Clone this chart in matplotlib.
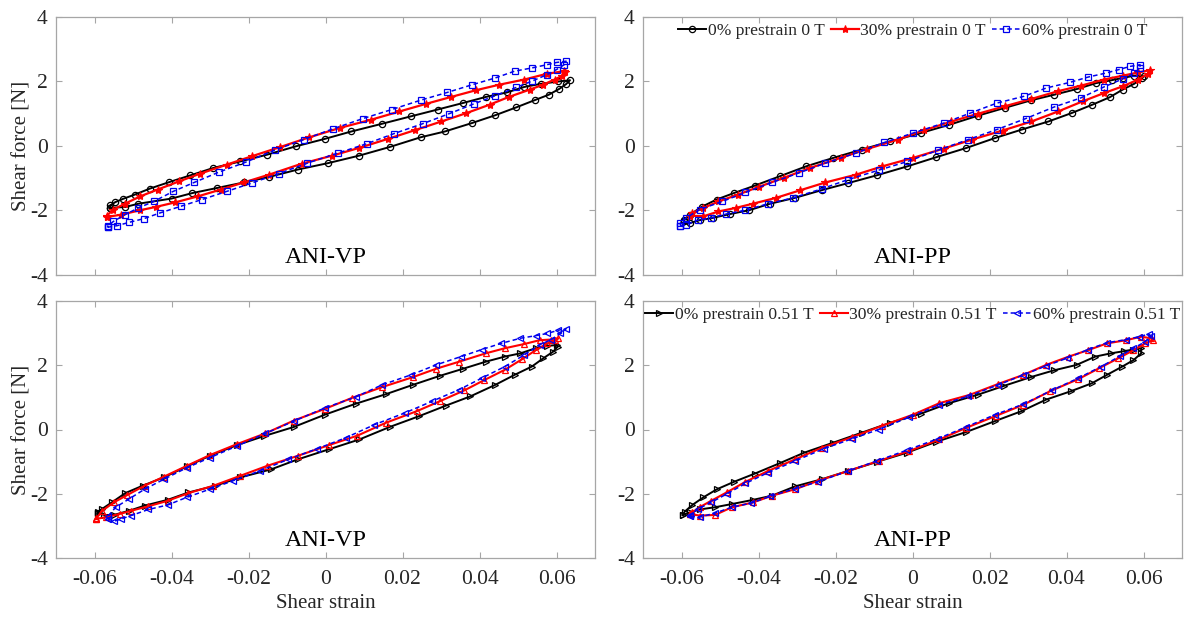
import matplotlib
matplotlib.use("Agg")
import matplotlib.pyplot as plt
import numpy as np

# ---------------- data (shear strain, shear force [N]) ----------------
# Panel A: ANI-VP, 0 T
vp0_p0_x = [-0.056, -0.052, -0.0486, -0.040, -0.0346, -0.0281, -0.0212, -0.0147, -0.0072, 0.0007, 0.0087, 0.0167, 0.0247, 0.031, 0.038, 0.044, 0.0496, 0.0543, 0.058, 0.0607, 0.0625, 0.0635,
            0.0605, 0.0561, 0.0516, 0.0471, 0.0416, 0.0356, 0.0291, 0.0222, 0.0147, 0.0067, -0.0002, -0.0077, -0.0152, -0.0222, -0.0291, -0.0351, -0.0406, -0.0456, -0.0496, -0.0526, -0.0546, -0.0559]
vp0_p0_y = [-1.92, -1.89, -1.79, -1.63, -1.46, -1.30, -1.13, -0.96, -0.73, -0.53, -0.30, -0.03, 0.27, 0.45, 0.71, 0.95, 1.20, 1.42, 1.59, 1.77, 1.92, 2.04,
            2.00, 1.93, 1.83, 1.66, 1.52, 1.33, 1.13, 0.92, 0.69, 0.45, 0.22, -0.01, -0.27, -0.48, -0.68, -0.91, -1.12, -1.32, -1.51, -1.64, -1.74, -1.84]
vp0_p30_x = [-0.0568, -0.0531, -0.0481, -0.0441, -0.0391, -0.0331, -0.0272, -0.0212, -0.0147, -0.0062, 0.0017, 0.0087, 0.0162, 0.0232, 0.0301, 0.0366, 0.0426, 0.0476, 0.0531, 0.0565, 0.0595, 0.0615, 0.0623,
             0.0620, 0.0575, 0.0516, 0.0451, 0.0391, 0.0326, 0.0262, 0.0192, 0.0117, 0.0037, -0.0042, -0.0117, -0.0192, -0.0257, -0.0326, -0.0381, -0.0436, -0.0481, -0.0521, -0.0551, -0.0568]
vp0_p30_y = [-2.20, -2.13, -1.99, -1.89, -1.75, -1.56, -1.35, -1.13, -0.89, -0.55, -0.30, -0.06, 0.22, 0.49, 0.76, 1.02, 1.28, 1.52, 1.75, 1.90, 2.06, 2.18, 2.28,
             2.32, 2.24, 2.06, 1.90, 1.73, 1.52, 1.31, 1.07, 0.81, 0.56, 0.27, -0.03, -0.32, -0.58, -0.86, -1.10, -1.35, -1.56, -1.79, -1.97, -2.16]
vp0_p60_x = [-0.0566, -0.0541, -0.0511, -0.0471, -0.0431, -0.0376, -0.0321, -0.0257, -0.0192, -0.0122, -0.0047, 0.0032, 0.0107, 0.0177, 0.0252, 0.0321, 0.0386, 0.0441, 0.0496, 0.0536, 0.0575, 0.0600, 0.0620,
             0.0625, 0.0600, 0.0575, 0.0536, 0.0491, 0.0441, 0.0381, 0.0316, 0.0247, 0.0172, 0.0097, 0.0019, -0.0057, -0.0132, -0.0207, -0.0277, -0.0341, -0.0396, -0.0446, -0.0486, -0.0521, -0.0551, -0.0566]
vp0_p60_y = [-2.52, -2.47, -2.37, -2.25, -2.08, -1.87, -1.66, -1.41, -1.15, -0.86, -0.53, -0.22, 0.07, 0.38, 0.69, 1.00, 1.31, 1.56, 1.82, 2.01, 2.21, 2.37, 2.52,
             2.63, 2.59, 2.52, 2.42, 2.32, 2.11, 1.90, 1.66, 1.42, 1.13, 0.85, 0.53, 0.20, -0.13, -0.50, -0.81, -1.13, -1.41, -1.72, -1.92, -2.13, -2.34, -2.49]

# Panel B: ANI-PP, 0 T
pp0_p0_x = [-0.0593, -0.0578, -0.0553, -0.0519, -0.0474, -0.0424, -0.0370, -0.0306, -0.0236, -0.0167, -0.0093, -0.0013, 0.0061, 0.0140, 0.0215, 0.0284, 0.0353, 0.0413, 0.0467, 0.0512, 0.0546, 0.0576, 0.0596, 0.0601,
            0.0576, 0.0546, 0.0517, 0.0477, 0.0428, 0.0368, 0.0309, 0.0239, 0.0170, 0.0096, 0.0021, -0.0058, -0.0132, -0.0206, -0.0276, -0.0345, -0.0410, -0.0464, -0.0509, -0.0548, -0.0578, -0.0593]
pp0_p0_y = [-2.34, -2.39, -2.30, -2.23, -2.11, -1.99, -1.79, -1.61, -1.37, -1.15, -0.91, -0.63, -0.35, -0.06, 0.25, 0.51, 0.76, 1.02, 1.28, 1.51, 1.75, 1.93, 2.11, 2.16,
            2.18, 2.11, 2.04, 1.95, 1.77, 1.59, 1.42, 1.18, 0.94, 0.66, 0.40, 0.14, -0.11, -0.37, -0.63, -0.94, -1.23, -1.46, -1.66, -1.89, -2.13, -2.28]
pp0_p30_x = [-0.0578, -0.0543, -0.0504, -0.0459, -0.0415, -0.0355, -0.0291, -0.0226, -0.0147, -0.0078, 0.0001, 0.0081, 0.0155, 0.0234, 0.0309, 0.0378, 0.0443, 0.0497, 0.0546, 0.0586, 0.0611, 0.0616,
             0.0586, 0.0546, 0.0497, 0.0437, 0.0378, 0.0309, 0.0239, 0.0170, 0.0101, 0.0031, -0.0038, -0.0117, -0.0187, -0.0266, -0.0335, -0.0400, -0.0454, -0.0504, -0.0543, -0.0573]
pp0_p30_y = [-2.16, -2.18, -2.03, -1.92, -1.79, -1.61, -1.37, -1.13, -0.89, -0.63, -0.37, -0.08, 0.20, 0.48, 0.76, 1.07, 1.39, 1.64, 1.85, 2.06, 2.24, 2.35,
             2.28, 2.18, 2.06, 1.87, 1.70, 1.46, 1.23, 1.00, 0.76, 0.49, 0.20, -0.09, -0.37, -0.68, -0.99, -1.27, -1.51, -1.72, -1.92, -2.08]
pp0_p60_x = [-0.0603, -0.0588, -0.0558, -0.0524, -0.0484, -0.0434, -0.0375, -0.0311, -0.0236, -0.0167, -0.0088, -0.0013, 0.0066, 0.0145, 0.0219, 0.0294, 0.0368, 0.0437, 0.0497, 0.0546, 0.0576, 0.0591,
             0.0591, 0.0566, 0.0536, 0.0502, 0.0457, 0.0408, 0.0348, 0.0289, 0.0219, 0.0150, 0.0081, 0.0001, -0.0073, -0.0147, -0.0226, -0.0296, -0.0365, -0.0434, -0.0494, -0.0553, -0.0588, -0.0603]
pp0_p60_y = [-2.47, -2.44, -2.30, -2.23, -2.11, -1.99, -1.79, -1.61, -1.33, -1.04, -0.75, -0.48, -0.13, 0.20, 0.51, 0.85, 1.21, 1.49, 1.83, 2.08, 2.26, 2.42,
             2.52, 2.47, 2.37, 2.26, 2.14, 1.97, 1.80, 1.54, 1.33, 1.02, 0.71, 0.40, 0.11, -0.22, -0.53, -0.84, -1.13, -1.44, -1.72, -1.97, -2.23, -2.39]

# Panel C: ANI-VP, 0.51 T
vp51_p0_x = [-0.0592, -0.0575, -0.0550, -0.0510, -0.0470, -0.0410, -0.0356, -0.0286, -0.0221, -0.0141, -0.0072, 0.0008, 0.0088, 0.0167, 0.0242, 0.0312, 0.0376, 0.0441, 0.0491, 0.0536, 0.0566, 0.0591, 0.0603,
             0.0600, 0.0576, 0.0546, 0.0506, 0.0466, 0.0416, 0.0357, 0.0297, 0.0227, 0.0157, 0.0078, -0.0002, -0.0082, -0.0161, -0.0231, -0.0301, -0.0360, -0.0420, -0.0475, -0.0520, -0.0555, -0.0580, -0.0592]
vp51_p0_y = [-2.60, -2.66, -2.66, -2.53, -2.37, -2.19, -1.96, -1.75, -1.49, -1.24, -0.93, -0.62, -0.31, 0.08, 0.41, 0.74, 1.03, 1.39, 1.70, 1.96, 2.22, 2.42, 2.58,
             2.63, 2.60, 2.53, 2.37, 2.27, 2.11, 1.89, 1.67, 1.39, 1.10, 0.80, 0.46, 0.08, -0.21, -0.49, -0.82, -1.15, -1.49, -1.75, -1.98, -2.27, -2.47, -2.56]
vp51_p30_x = [-0.0595, -0.0570, -0.0535, -0.0505, -0.0460, -0.0410, -0.0356, -0.0291, -0.0221, -0.0151, -0.0072, 0.0008, 0.0083, 0.0157, 0.0237, 0.0297, 0.0361, 0.0411, 0.0466, 0.0511, 0.0546, 0.0576, 0.0596,
              0.0605, 0.0586, 0.0556, 0.0516, 0.0466, 0.0416, 0.0347, 0.0287, 0.0227, 0.0147, 0.0068, -0.0002, -0.0082, -0.0156, -0.0231, -0.0301, -0.0360, -0.0420, -0.0470, -0.0515, -0.0550, -0.0580, -0.0595]
vp51_p30_y = [-2.78, -2.73, -2.63, -2.53, -2.39, -2.22, -1.98, -1.75, -1.44, -1.13, -0.82, -0.49, -0.19, 0.21, 0.57, 0.88, 1.22, 1.53, 1.86, 2.19, 2.47, 2.68, 2.78,
              2.84, 2.80, 2.78, 2.66, 2.53, 2.37, 2.11, 1.89, 1.63, 1.32, 0.98, 0.64, 0.28, -0.12, -0.46, -0.80, -1.13, -1.47, -1.75, -2.04, -2.27, -2.53, -2.76]
vp51_p60_x = [-0.0565, -0.0550, -0.0530, -0.0505, -0.0460, -0.0410, -0.0360, -0.0301, -0.0241, -0.0171, -0.0097, -0.0022, 0.0052, 0.0127, 0.0207, 0.0277, 0.0347, 0.0406, 0.0466, 0.0516, 0.0556, 0.0586, 0.0610,
              0.0625, 0.0605, 0.0576, 0.0546, 0.0506, 0.0456, 0.0406, 0.0352, 0.0287, 0.0222, 0.0147, 0.0078, -0.0002, -0.0082, -0.0156, -0.0231, -0.0301, -0.0360, -0.0420, -0.0470, -0.0510, -0.0545, -0.0565]
vp51_p60_y = [-2.78, -2.86, -2.78, -2.68, -2.49, -2.35, -2.11, -1.86, -1.60, -1.29, -0.93, -0.60, -0.26, 0.15, 0.52, 0.88, 1.24, 1.60, 1.96, 2.32, 2.63, 2.80, 2.99,
              3.14, 3.09, 2.99, 2.92, 2.84, 2.68, 2.49, 2.27, 2.01, 1.70, 1.39, 1.01, 0.67, 0.26, -0.12, -0.52, -0.88, -1.19, -1.55, -1.86, -2.16, -2.42, -2.70]

# Panel D: ANI-PP, 0.51 T
pp51_p0_x = [-0.0597, -0.0577, -0.0553, -0.0513, -0.0469, -0.0414, -0.0365, -0.0305, -0.0236, -0.0167, -0.0093, -0.0014, 0.0060, 0.0139, 0.0214, 0.0283, 0.0347, 0.0411, 0.0466, 0.0505, 0.0545, 0.0574, 0.0594,
             0.0594, 0.0574, 0.0550, 0.0515, 0.0475, 0.0426, 0.0367, 0.0307, 0.0238, 0.0169, 0.0095, 0.0021, -0.0058, -0.0132, -0.0206, -0.0281, -0.0345, -0.0409, -0.0464, -0.0508, -0.0543, -0.0572, -0.0592]
pp51_p0_y = [-2.66, -2.58, -2.49, -2.42, -2.32, -2.19, -2.06, -1.77, -1.55, -1.29, -1.01, -0.72, -0.39, -0.08, 0.26, 0.57, 0.93, 1.19, 1.44, 1.70, 1.96, 2.16, 2.37,
             2.53, 2.49, 2.44, 2.37, 2.27, 2.01, 1.84, 1.63, 1.36, 1.08, 0.82, 0.49, 0.21, -0.10, -0.41, -0.72, -1.05, -1.37, -1.63, -1.86, -2.11, -2.35, -2.56]
pp51_p30_x = [-0.0577, -0.0553, -0.0513, -0.0469, -0.0414, -0.0365, -0.0305, -0.0246, -0.0167, -0.0088, -0.0009, 0.0070, 0.0139, 0.0218, 0.0288, 0.0357, 0.0431, 0.0485, 0.0535, 0.0574, 0.0604, 0.0624,
              0.0619, 0.0594, 0.0555, 0.0505, 0.0456, 0.0406, 0.0347, 0.0288, 0.0223, 0.0149, 0.0070, 0.0001, -0.0078, -0.0157, -0.0236, -0.0305, -0.0375, -0.0434, -0.0483, -0.0523, -0.0553, -0.0572]
pp51_p30_y = [-2.63, -2.68, -2.66, -2.42, -2.27, -2.06, -1.86, -1.60, -1.29, -0.98, -0.67, -0.31, 0.05, 0.43, 0.77, 1.19, 1.57, 1.91, 2.22, 2.47, 2.68, 2.78,
              2.84, 2.89, 2.78, 2.68, 2.47, 2.27, 2.01, 1.70, 1.42, 1.08, 0.82, 0.46, 0.12, -0.24, -0.57, -0.93, -1.29, -1.63, -1.96, -2.22, -2.42, -2.58]
pp51_p60_x = [-0.0577, -0.0553, -0.0513, -0.0469, -0.0419, -0.0370, -0.0305, -0.0246, -0.0167, -0.0093, -0.0014, 0.0065, 0.0139, 0.0214, 0.0288, 0.0362, 0.0431, 0.0490, 0.0540, 0.0574, 0.0604, 0.0619,
              0.0614, 0.0589, 0.0555, 0.0505, 0.0456, 0.0401, 0.0347, 0.0288, 0.0223, 0.0144, 0.0070, -0.0009, -0.0088, -0.0157, -0.0231, -0.0305, -0.0375, -0.0434, -0.0483, -0.0523, -0.0557, -0.0577]
pp51_p60_y = [-2.70, -2.73, -2.60, -2.42, -2.29, -2.08, -1.84, -1.63, -1.29, -0.98, -0.64, -0.29, 0.08, 0.46, 0.79, 1.22, 1.60, 1.96, 2.29, 2.53, 2.73, 2.91,
              2.97, 2.89, 2.80, 2.70, 2.49, 2.22, 1.98, 1.70, 1.39, 1.03, 0.77, 0.38, 0.00, -0.29, -0.60, -0.98, -1.34, -1.68, -2.01, -2.27, -2.47, -2.66]

panel_titles = ["ANI-VP", "ANI-PP", "ANI-VP", "ANI-PP"]
labels_0T = ["0% prestrain 0 T", "30% prestrain 0 T", "60% prestrain 0 T"]
labels_051T = ["0% prestrain 0.51 T", "30% prestrain 0.51 T", "60% prestrain 0.51 T"]
x_ticks = [-0.06, -0.04, -0.02, 0, 0.02, 0.04, 0.06]
x_ticklabels = ["-0.06", "-0.04", "-0.02", "0", "0.02", "0.04", "0.06"]
y_ticks = [-4, -2, 0, 2, 4]
y_ticklabels = ["-4", "-2", "0", "2", "4"]
xlabel = "Shear strain"
ylabel = "Shear force [N]"

# ---------------- figure ----------------
plt.rcParams['font.family'] = ['Liberation Serif', 'DejaVu Serif']
plt.rcParams['axes.unicode_minus'] = False

W, H = 1186, 617
fig = plt.figure(figsize=(W / 100, H / 100), dpi=100)

def box(l, r, t, b):
    return [l / W, 1 - b / H, (r - l) / W, (b - t) / H]

axes = [fig.add_axes(box(56, 595, 17, 275)),
        fig.add_axes(box(643, 1182, 17, 275)),
        fig.add_axes(box(56, 595, 301, 558)),
        fig.add_axes(box(643, 1182, 301, 558))]

frame_col = "#a6a6a6"
text_col = "#262626"

styles_0T = [dict(color="black", ls="-", marker="o", ms=4.5, mfc="none", mew=0.9, lw=1.4),
             dict(color="red", ls="-", marker="*", ms=6, mfc="red", mew=0.8, lw=1.6),
             dict(color="#0000ee", ls="--", marker="s", ms=4, mfc="none", mew=0.9, lw=1.1, dashes=(3, 2))]
styles_051T = [dict(color="black", ls="-", marker=">", ms=4.5, mfc="none", mew=0.9, lw=1.4),
               dict(color="red", ls="-", marker="^", ms=4.5, mfc="none", mew=0.9, lw=1.5),
               dict(color="#0000ee", ls="--", marker="<", ms=4.5, mfc="none", mew=0.9, lw=1.1, dashes=(3, 2))]

panel_data = [
    [(vp0_p0_x, vp0_p0_y), (vp0_p30_x, vp0_p30_y), (vp0_p60_x, vp0_p60_y)],
    [(pp0_p0_x, pp0_p0_y), (pp0_p30_x, pp0_p30_y), (pp0_p60_x, pp0_p60_y)],
    [(vp51_p0_x, vp51_p0_y), (vp51_p30_x, vp51_p30_y), (vp51_p60_x, vp51_p60_y)],
    [(pp51_p0_x, pp51_p0_y), (pp51_p30_x, pp51_p30_y), (pp51_p60_x, pp51_p60_y)],
]

for i, ax in enumerate(axes):
    styles = styles_0T if i < 2 else styles_051T
    labels = labels_0T if i < 2 else labels_051T
    for (xs, ys), st, lab in zip(panel_data[i], styles, labels):
        xs = list(xs) + [xs[0]]
        ys = list(ys) + [ys[0]]
        ax.plot(xs, ys, label=lab, **st)
    ax.set_xlim(-0.07, 0.07)
    ax.set_ylim(-4, 4)
    ax.set_xticks(x_ticks)
    ax.set_yticks(y_ticks)
    ax.tick_params(direction="in", length=4, width=0.8, colors=frame_col,
                   labelcolor=text_col, labelsize=15.5, top=True, right=True, pad=6)
    ax.tick_params(axis="x", pad=9)
    if i >= 2:
        ax.set_xticklabels(x_ticklabels)
        ax.set_xlabel(xlabel, fontsize=15, color=text_col, labelpad=3)
    else:
        ax.set_xticklabels([])
    if i % 2 == 0:
        ax.set_ylabel(ylabel, fontsize=15, color=text_col, labelpad=-1)
    ax.set_yticklabels(y_ticklabels)
    for sp in ax.spines.values():
        sp.set_color(frame_col)
        sp.set_linewidth(0.9)
    ax.text(0, -3.45, panel_titles[i], ha="center", va="center",
            fontsize=17.5, color="black")
    if i % 2 == 1:
        ax.legend(loc="upper center", ncol=3, frameon=False, fontsize=12.6,
                  handlelength=1.6, handletextpad=0.1, columnspacing=0.35,
                  borderaxespad=0.15, borderpad=0.2, labelcolor=text_col)

fig.savefig("out.png", dpi=100, facecolor="white")
